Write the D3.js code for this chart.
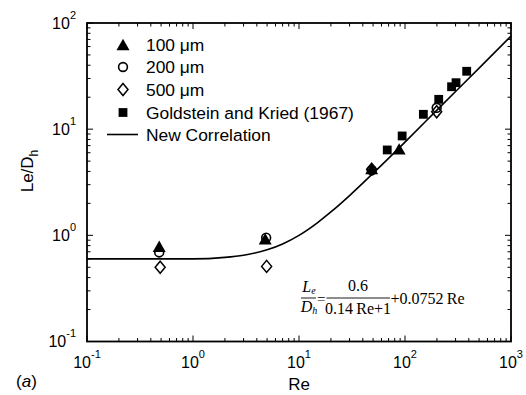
<!DOCTYPE html>
<html><head><meta charset="utf-8">
<script src="https://cdn.jsdelivr.net/npm/d3@7"></script>
<style>body{margin:0;background:#fff}</style>
</head><body>
<svg id="chart" width="526" height="395"></svg>
<script>
// ---- data ----
const re100 = [0.48, 4.8, 48.5, 88];
const le100 = [0.78, 0.92, 4.2, 6.45];
const re200 = [0.48, 4.9, 48.5, 199];
const le200 = [0.69, 0.95, 4.1, 15.9];
const re500 = [0.49, 4.95, 48.5, 199];
const le500 = [0.50, 0.51, 4.2, 14.6];
const reGK = [68, 94, 149, 208, 275, 303, 382];
const leGK = [6.37, 8.63, 13.8, 19.1, 25.1, 27.4, 35.1];
const reCorr = [0.1, 0.2, 0.5, 1, 2, 3, 5, 7, 10, 15, 20, 30, 50, 100, 200, 500, 1000];
const leCorr = [0.60, 0.60, 0.60, 0.60, 0.62, 0.65, 0.73, 0.83, 1.00, 1.32, 1.66, 2.37, 3.84, 7.56, 15.1, 37.6, 75.2];
const xTickExps = [-1, 0, 1, 2, 3];
const yTickExps = [-1, 0, 1, 2];
const legendLabels = ["100 \u03bcm", "200 \u03bcm", "500 \u03bcm", "Goldstein and Kried (1967)", "New Correlation"];

const svg = d3.select("#chart");
svg.append("rect").attr("width", 526).attr("height", 395).attr("fill", "#fff");

const L = 87, R = 511, T = 23, B = 341.5;
const x = d3.scaleLog().domain([0.1, 1000]).range([L, R]);
const y = d3.scaleLog().domain([0.1, 100]).range([B, T]);

const sans = "'Liberation Sans', Arial, Helvetica, sans-serif";
const serif = "'Liberation Serif', 'Times New Roman', serif";

// ---- ticks (inward, all four sides) ----
function logTicks(lo, hi) {
  const out = [];
  for (let e = Math.log10(lo); e < Math.log10(hi); e++) {
    for (let m = 1; m < 10; m++) out.push({v: m * Math.pow(10, e), major: m === 1});
  }
  out.push({v: hi, major: true});
  return out;
}
const g = svg.append("g").attr("stroke", "#000").attr("stroke-width", 1);
logTicks(0.1, 1000).forEach(t => {
  const len = t.major ? 6 : 3.5;
  const px = x(t.v);
  g.append("line").attr("x1", px).attr("x2", px).attr("y1", B).attr("y2", B - len);
  g.append("line").attr("x1", px).attr("x2", px).attr("y1", T).attr("y2", T + len);
});
logTicks(0.1, 100).forEach(t => {
  const len = t.major ? 6 : 3.5;
  const py = y(t.v);
  g.append("line").attr("y1", py).attr("y2", py).attr("x1", L).attr("x2", L + len);
  g.append("line").attr("y1", py).attr("y2", py).attr("x1", R).attr("x2", R - len);
});

// ---- tick labels ----
xTickExps.forEach(e => {
  const t = svg.append("text").attr("x", x(Math.pow(10, e))).attr("y", 368)
    .attr("text-anchor", "middle").attr("font-family", sans).attr("font-size", 16);
  t.append("tspan").text("10");
  t.append("tspan").attr("dy", -10.5).attr("font-size", 11).text(String(e));
});
yTickExps.forEach(e => {
  const t = svg.append("text").attr("x", 76).attr("y", y(Math.pow(10, e)) + 5.5)
    .attr("text-anchor", "end").attr("font-family", sans).attr("font-size", 16);
  t.append("tspan").text("10");
  t.append("tspan").attr("dy", -10).attr("font-size", 11).text(String(e));
});

// axis titles
svg.append("text").attr("x", 299).attr("y", 390).attr("text-anchor", "middle")
  .attr("font-family", sans).attr("font-size", 17).text("Re");
const yl = svg.append("text").attr("transform", "translate(33,171) rotate(-90)")
  .attr("text-anchor", "middle").attr("font-family", sans).attr("font-size", 17);
yl.append("tspan").text("Le/D");
yl.append("tspan").attr("dy", 5).attr("font-size", 12).text("h");
const al = svg.append("text").attr("x", 16).attr("y", 387).attr("font-family", sans).attr("font-size", 17);
al.append("tspan").text("(");
al.append("tspan").attr("font-style", "italic").text("a");
al.append("tspan").text(")");

// ---- markers ----
const triPath = "M0,-6.2 L6.5,5.2 L-6.5,5.2Z";
const diaPath = "M0,-6 L5,0 L0,6 L-5,0Z";
function drawTri(sel) { sel.append("path").attr("d", triPath).attr("fill", "#000"); }
function drawCirc(sel) { sel.append("circle").attr("r", 4.4).attr("fill", "none").attr("stroke", "#000").attr("stroke-width", 1.6); }
function drawDia(sel) { sel.append("path").attr("d", diaPath).attr("fill", "none").attr("stroke", "#000").attr("stroke-width", 1.5); }
function drawSq(sel) { sel.append("rect").attr("x", -4.4).attr("y", -4.4).attr("width", 8.8).attr("height", 8.8).attr("fill", "#000"); }

function series(res, les, fn) {
  const pts = svg.append("g").selectAll("g").data(d3.zip(res, les)).join("g")
    .attr("transform", d => `translate(${x(d[0])},${y(d[1])})`);
  fn(pts);
}

// correlation line
const line = d3.line().x(d => x(d[0])).y(d => y(d[1])).curve(d3.curveMonotoneX);
svg.append("path").datum(d3.zip(reCorr, leCorr)).attr("d", line)
  .attr("fill", "none").attr("stroke", "#000").attr("stroke-width", 1.6);

series(re100, le100, drawTri);
series(re200, le200, drawCirc);
series(re500, le500, drawDia);
series(reGK, leGK, drawSq);

// frame
svg.append("rect").attr("x", L).attr("y", T).attr("width", R - L).attr("height", B - T)
  .attr("fill", "none").attr("stroke", "#000").attr("stroke-width", 1.8);

// ---- legend ----
const legY = [45, 67, 89.5, 112.5, 134.5];
const legFns = [drawTri, drawCirc, drawDia, drawSq, null];
legendLabels.forEach((lab, i) => {
  const gg = svg.append("g").attr("transform", `translate(123,${legY[i]})`);
  if (legFns[i]) legFns[i](gg);
  else gg.append("line").attr("x1", -16).attr("x2", 15).attr("stroke", "#000").attr("stroke-width", 1.6);
  svg.append("text").attr("x", 146).attr("y", legY[i] + 6).attr("font-family", sans)
    .attr("font-size", 17.4).text(lab);
});

// ---- formula ----
const ff = svg.append("g").attr("font-family", serif).attr("font-size", 16).attr("fill", "#000");
const tL = ff.append("text").attr("x", 309).attr("y", 292).attr("text-anchor", "middle");
tL.append("tspan").attr("font-style", "italic").text("L");
tL.append("tspan").attr("font-style", "italic").attr("font-size", 10).attr("dy", 2).text("e");
const tD = ff.append("text").attr("x", 309).attr("y", 312).attr("text-anchor", "middle");
tD.append("tspan").attr("font-style", "italic").text("D");
tD.append("tspan").attr("font-style", "italic").attr("font-size", 10).attr("dy", 2).text("h");
ff.append("line").attr("x1", 301).attr("x2", 316).attr("y1", 298).attr("y2", 298).attr("stroke", "#000").attr("stroke-width", 0.9);
ff.append("text").attr("x", 317).attr("y", 303.5).attr("font-size", 15).text("=");
ff.append("line").attr("x1", 326.5).attr("x2", 390).attr("y1", 298).attr("y2", 298).attr("stroke", "#000").attr("stroke-width", 0.9);
ff.append("text").attr("x", 358).attr("y", 291).attr("text-anchor", "middle").text("0.6");
ff.append("text").attr("x", 358).attr("y", 314).attr("text-anchor", "middle").text("0.14\u2009Re+1");
ff.append("text").attr("x", 390.5).attr("y", 303.5).text("+0.0752\u2009Re");
</script>
</body></html>
